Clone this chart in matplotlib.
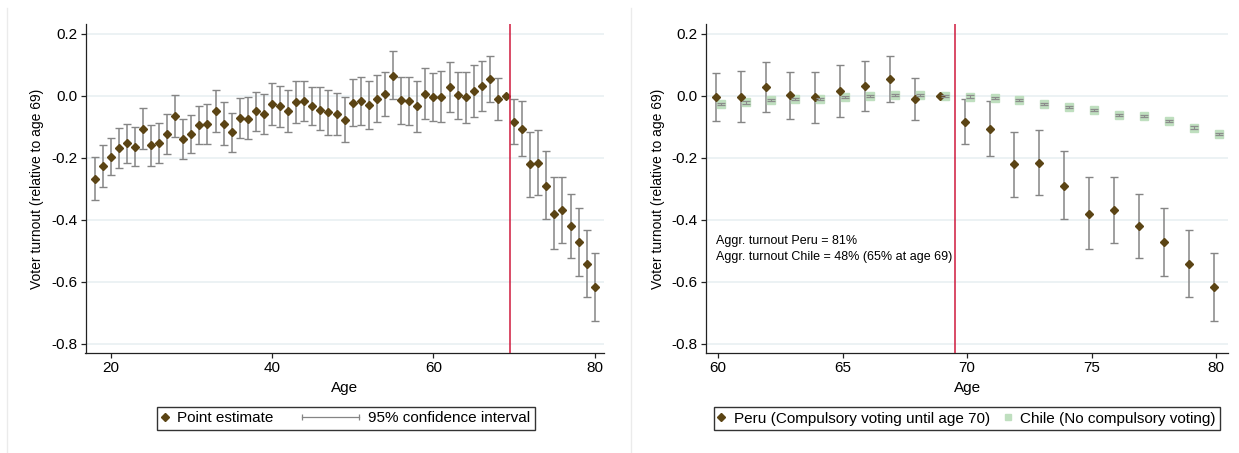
import numpy as np
import matplotlib.pyplot as plt
from matplotlib.lines import Line2D
from matplotlib.legend_handler import HandlerBase

plt.rcParams['font.family'] = ['Liberation Sans', 'DejaVu Sans']
plt.rcParams['axes.unicode_minus'] = False

# Peru: estimate by age, with 95% CI (age 69 is the reference category)
ages = np.arange(18, 81)
est = [-0.267, -0.227, -0.197, -0.168, -0.154, -0.164, -0.107, -0.160, -0.153, -0.124,
       -0.065, -0.140, -0.124, -0.094, -0.091, -0.049, -0.090, -0.118, -0.072, -0.074,
       -0.050, -0.059, -0.028, -0.034, -0.049, -0.020, -0.017, -0.033, -0.045, -0.053,
       -0.060, -0.079, -0.024, -0.016, -0.030, -0.010, 0.005, 0.064, -0.015, -0.016,
       -0.035, 0.006, -0.004, -0.004, 0.028, 0.001, -0.005, 0.014, 0.030, 0.052,
       -0.011, 0.000, -0.086, -0.107, -0.221, -0.216, -0.290, -0.380, -0.369, -0.421,
       -0.471, -0.543, -0.615]
ci_hi = [-0.198, -0.160, -0.136, -0.103, -0.090, -0.101, -0.041, -0.094, -0.087, -0.060,
         0.001, -0.074, -0.064, -0.032, -0.026, 0.018, -0.022, -0.056, -0.009, -0.006,
         0.013, 0.006, 0.040, 0.032, 0.018, 0.047, 0.048, 0.029, 0.028, 0.018,
         0.007, -0.006, 0.052, 0.059, 0.047, 0.065, 0.077, 0.143, 0.061, 0.061,
         0.046, 0.090, 0.074, 0.079, 0.109, 0.077, 0.077, 0.097, 0.111, 0.128,
         0.058, np.nan, -0.012, -0.017, -0.118, -0.110, -0.180, -0.263, -0.263, -0.317,
         -0.361, -0.432, -0.506]
ci_lo = [-0.335, -0.294, -0.256, -0.233, -0.217, -0.228, -0.172, -0.226, -0.218, -0.189,
         -0.132, -0.205, -0.186, -0.156, -0.155, -0.118, -0.158, -0.181, -0.135, -0.141,
         -0.114, -0.124, -0.094, -0.101, -0.118, -0.087, -0.083, -0.094, -0.112, -0.126,
         -0.126, -0.151, -0.098, -0.094, -0.106, -0.084, -0.067, -0.012, -0.091, -0.096,
         -0.116, -0.075, -0.081, -0.086, -0.052, -0.075, -0.089, -0.070, -0.049, -0.022,
         -0.077, np.nan, -0.157, -0.196, -0.325, -0.321, -0.399, -0.495, -0.474, -0.524,
         -0.580, -0.650, -0.726]

# Chile: estimate by age 60-80 (CI very narrow)
chile_ages = np.arange(60, 81)
chile_est = [-0.028, -0.022, -0.015, -0.012, -0.010, -0.005, -0.001, 0.001, 0.001, 0.000,
             -0.003, -0.009, -0.014, -0.026, -0.036, -0.047, -0.063, -0.067, -0.083, -0.103,
             -0.125]
chile_se = [0.0035] * 21

annot = ['Aggr. turnout Peru = 81%', 'Aggr. turnout Chile = 48% (65% at age 69)']

brown = '#5b4414'
grey = '#858585'
red = '#cf1a3d'
green = '#bfdfbf'
grid = '#e9f0f2'

ages = np.asarray(ages)
est = np.asarray(est)
ci_lo = np.asarray(ci_lo)
ci_hi = np.asarray(ci_hi)
ok = ~np.isnan(ci_lo)


class HandlerCI(HandlerBase):
    # horizontal interval with end caps, reaching left past the handle box
    def create_artists(self, legend, orig_handle, xdescent, ydescent,
                       width, height, fontsize, trans):
        y = height / 2 - ydescent
        x0, x1 = width - 41 - xdescent, width - xdescent
        line = Line2D([x0, x1], [y, y], color=grey, lw=0.9)
        caps = Line2D([x0, x1], [y, y], ls='none', marker='|', ms=5,
                      mew=0.9, color=grey)
        line.set_transform(trans)
        caps.set_transform(trans)
        return [line, caps]


def style(ax, xticks, xlim):
    ax.set_ylim(-0.829, 0.2306)
    ax.set_xlim(*xlim)
    ax.set_yticks([0.2, 0.0, -0.2, -0.4, -0.6, -0.8])
    ax.set_yticklabels(['0.2', '0.0', '-0.2', '-0.4', '-0.6', '-0.8'])
    ax.set_xticks(xticks)
    ax.grid(axis='y', color=grid, lw=1.2)
    ax.set_axisbelow(True)
    for s in ('top', 'right'):
        ax.spines[s].set_visible(False)
    for s in ('left', 'bottom'):
        ax.spines[s].set_color('#222222')
        ax.spines[s].set_linewidth(0.9)
    ax.tick_params(labelsize=11, length=3.6, width=0.9, pad=2.5, color='#222222')
    ax.set_xlabel('Age', fontsize=11, labelpad=4)
    ax.set_ylabel('Voter turnout (relative to age 69)', fontsize=10, labelpad=5)
    ax.axvline(69.5, color=red, lw=1.1, zorder=5)


leg_kw = dict(ncol=2, loc='center', bbox_transform=None, fontsize=11, frameon=True,
              fancybox=False, edgecolor='#333333', framealpha=1, handlelength=0.4,
              handletextpad=0.61, borderpad=0.3, borderaxespad=0)

fig = plt.figure(figsize=(12.39, 4.53), dpi=100)
ax1 = fig.add_axes([85.5 / 1239, 1 - 353 / 453, 518.5 / 1239, 329 / 453])
ax2 = fig.add_axes([706.3 / 1239, 1 - 353 / 453, 522 / 1239, 329 / 453])
leg_kw['bbox_transform'] = fig.transFigure

# left panel
ax1.errorbar(ages[ok], est[ok], yerr=[est[ok] - ci_lo[ok], ci_hi[ok] - est[ok]],
             fmt='none', ecolor=grey, elinewidth=1.1, capsize=3, capthick=1.0, zorder=3)
ax1.plot(ages, est, ls='none', marker='D', ms=4, color=brown, zorder=4)
style(ax1, [20, 40, 60, 80], (16.88, 81.15))

pt = Line2D([], [], ls='none', marker='D', ms=4, color=brown)
ci = Line2D([], [], color=grey)
ax1.legend([pt, ci], ['Point estimate', '95% confidence interval'],
           handler_map={ci: HandlerCI()}, columnspacing=5.16,
           bbox_to_anchor=(346 / 1239, 1 - 418.5 / 453), **leg_kw)

# right panel
sel = (ages >= 60) & ok
pe_x = ages - 0.1
ax2.errorbar(pe_x[sel], est[sel], yerr=[est[sel] - ci_lo[sel], ci_hi[sel] - est[sel]],
             fmt='none', ecolor=grey, elinewidth=1.1, capsize=3, capthick=1.0, zorder=3)
m = ages >= 60
ax2.plot(pe_x[m], est[m], ls='none', marker='D', ms=4, color=brown, zorder=4)
ch_x = np.asarray(chile_ages) + 0.1
ax2.plot(ch_x, chile_est, ls='none', marker='s', ms=5.5, color=green, mec=green, zorder=3)
ax2.errorbar(ch_x, chile_est, yerr=chile_se, fmt='none', ecolor='#8c8c8c',
             elinewidth=0.8, capsize=3, capthick=0.9, zorder=4)
style(ax2, [60, 65, 70, 75, 80], (59.52, 80.49))
ax2.text(59.92, -0.468, annot[0], fontsize=9, va='center', ha='left')
ax2.text(59.92, -0.52, annot[1], fontsize=9, va='center', ha='left')

pe = Line2D([], [], ls='none', marker='D', ms=4, color=brown)
cl = Line2D([], [], ls='none', marker='s', ms=5, color=green)
ax2.legend([pe, cl], ['Peru (Compulsory voting until age 70)', 'Chile (No compulsory voting)'],
           columnspacing=1.0, bbox_to_anchor=(967 / 1239, 1 - 418.5 / 453), **leg_kw)

# faint panel borders
for xp in (7, 631):
    fig.add_artist(Line2D([xp / 1239, xp / 1239], [0, 1 - 8 / 453],
                          transform=fig.transFigure, color='#ebebeb', lw=1.0))

fig.savefig('out.png', dpi=100)
